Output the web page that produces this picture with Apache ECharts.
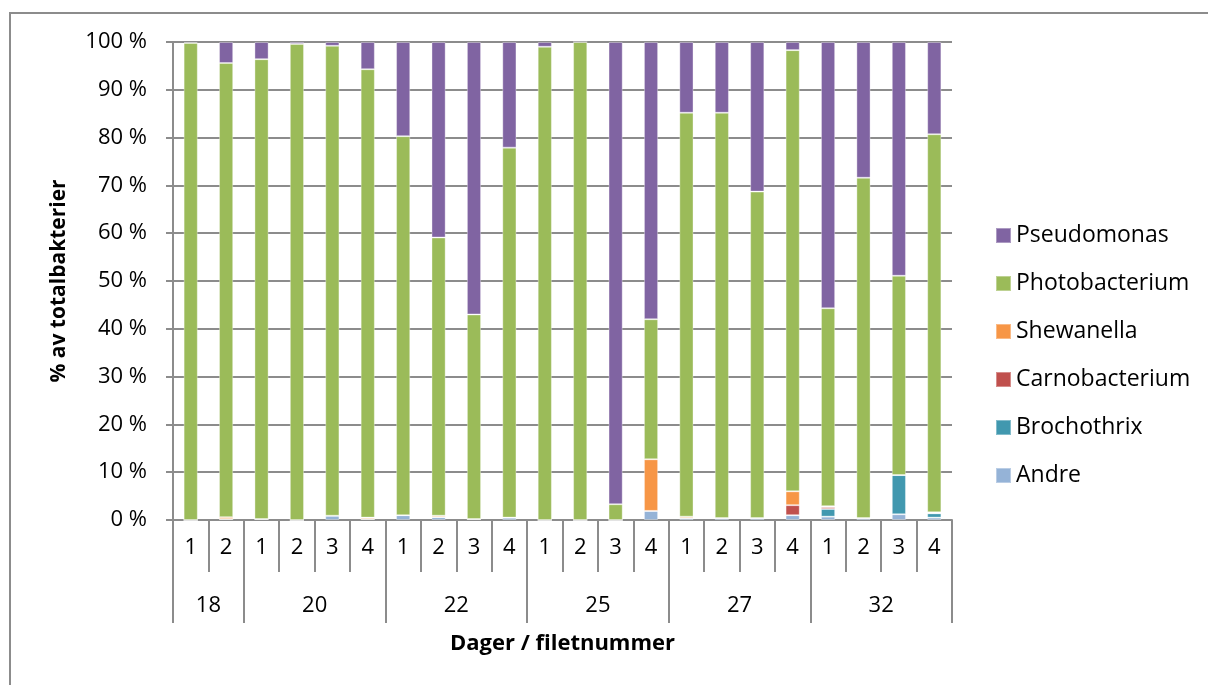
<!DOCTYPE html>
<html>
<head>
<meta charset="utf-8">
<script src="https://cdn.jsdelivr.net/npm/echarts@6/dist/echarts.min.js"></script>
<style>
  html, body { margin: 0; padding: 0; background: #fff; overflow: hidden; }
  #wrap { position: relative; width: 1208px; height: 685px; overflow: hidden; }
  #frame { position: absolute; left: 9px; top: 12px; width: 1400px; height: 900px;
           border-left: 2px solid #8c8c8c; border-top: 2px solid #8c8c8c; box-sizing: border-box; }
  #chart { position: absolute; left: 0; top: 0; width: 1208px; height: 685px; }
</style>
</head>
<body>
<div id="wrap">
  <div id="frame"></div>
  <div id="chart"></div>
</div>
<script>
// Days of storage and number of fillets sampled per day
const groupNames = ['18', '20', '22', '25', '27', '32'];
const groupSizes = [2, 4, 4, 4, 4, 4];
const fileLabels = ['1', '2', '1', '2', '3', '4', '1', '2', '3', '4', '1', '2', '3', '4', '1', '2', '3', '4', '1', '2', '3', '4'];
const yTicks = [0, 10, 20, 30, 40, 50, 60, 70, 80, 90, 100];

// Share of total bacteria (%) per fillet, bottom of the stack first
const andre          = [0,   0.2, 0.2, 0,   0.9, 0.2, 1.0, 0.6, 0.2, 0.5, 0,   0,   0,   1.9, 0.4, 0.4, 0.4, 1.0, 0.7, 0.4, 1.2, 0.5];
const brochothrix    = [0,   0,   0,   0,   0,   0,   0,   0,   0,   0,   0,   0,   0,   0,   0,   0,   0,   0,   1.6, 0,   8.2, 0.9];
const carnobacterium = [0,   0,   0,   0,   0,   0,   0,   0,   0,   0,   0,   0,   0,   0,   0,   0,   0,   2.1, 0.4, 0,   0,   0];
const shewanella     = [0,   0.4, 0,   0,   0,   0.3, 0,   0.3, 0,   0,   0,   0,   0,   10.8, 0.3, 0,  0,   2.9, 0.2, 0,   0,   0.2];
const photobacterium = [99.8, 95.0, 96.2, 99.6, 98.3, 93.8, 79.3, 58.2, 42.8, 77.4, 99.0, 100, 3.3, 29.3, 84.5, 84.8, 68.3, 92.3, 41.4, 71.2, 41.7, 79.1];
const pseudomonas    = [0.2, 4.4, 3.6, 0.4, 0.8, 5.7, 19.7, 40.9, 57.0, 22.1, 1.0, 0,   96.7, 58.0, 14.8, 14.8, 31.3, 1.7, 55.7, 28.4, 48.9, 19.3];

const FONT = 'Open Sans';
const GRID = '#8c8c8c';
const TICK_FONT = 22;

// Group boundaries and centres on a 0..n scale that spans the category axis
const groupEdges = [0];
groupSizes.forEach(s => groupEdges.push(groupEdges[groupEdges.length - 1] + s));
const groupCenters = groupSizes.map((s, i) => groupEdges[i] + s / 2);

const seriesDefs = [
  ['Andre', andre, '#95B3D7'],
  ['Brochothrix', brochothrix, '#4198AF'],
  ['Carnobacterium', carnobacterium, '#C0504D'],
  ['Shewanella', shewanella, '#F79646'],
  ['Photobacterium', photobacterium, '#9BBB59'],
  ['Pseudomonas', pseudomonas, '#8064A2']
];

const chart = echarts.init(document.getElementById('chart'), null, { renderer: 'canvas' });

chart.setOption({
  animation: false,
  textStyle: { fontFamily: FONT },
  grid: { left: 173, right: 256, top: 42, bottom: 165, containLabel: false },
  legend: {
    orient: 'vertical',
    left: 995,
    top: 224,
    padding: 0,
    itemWidth: 15,
    itemHeight: 15,
    itemGap: 25,
    icon: 'rect',
    data: seriesDefs.map(d => d[0]).reverse(),
    textStyle: { fontFamily: FONT, fontSize: 23, color: '#000' }
  },
  xAxis: [
    {
      type: 'category',
      data: fileLabels,
      position: 'bottom',
      boundaryGap: true,
      axisLine: { show: true, lineStyle: { color: GRID, width: 2 } },
      axisTick: { show: true, interval: 0, length: 52, lineStyle: { color: GRID, width: 2 } },
      axisLabel: { interval: 0, margin: 17, fontFamily: FONT, fontSize: TICK_FONT, color: '#000' },
      splitLine: { show: false }
    },
    {
      type: 'value',
      position: 'bottom',
      min: 0,
      max: fileLabels.length,
      axisLine: { show: false },
      axisTick: { show: true, length: 103, customValues: groupEdges, lineStyle: { color: GRID, width: 2 } },
      axisLabel: {
        customValues: groupCenters,
        margin: 75,
        fontFamily: FONT,
        fontSize: TICK_FONT,
        color: '#000',
        formatter: v => {
          const i = groupCenters.indexOf(v);
          return i >= 0 ? groupNames[i] : '';
        }
      },
      splitLine: { show: false },
      name: 'Dager / filetnummer',
      nameLocation: 'middle',
      nameGap: 113,
      nameTextStyle: { fontFamily: FONT, fontSize: 22, fontWeight: 'bold', color: '#000' }
    }
  ],
  yAxis: {
    type: 'value',
    min: yTicks[0],
    max: yTicks[yTicks.length - 1],
    interval: yTicks[1] - yTicks[0],
    axisLine: { show: true, lineStyle: { color: GRID, width: 2 } },
    axisTick: { show: true, length: 7, lineStyle: { color: GRID, width: 2 } },
    axisLabel: { margin: 26, fontFamily: FONT, fontSize: TICK_FONT, color: '#000', formatter: '{value} %' },
    splitLine: { show: true, lineStyle: { color: GRID, width: 2 } },
    name: '% av totalbakterier',
    nameLocation: 'middle',
    nameGap: 103,
    nameRotate: 90,
    nameTextStyle: { fontFamily: FONT, fontSize: 21, fontWeight: 'bold', color: '#000' }
  },
  series: seriesDefs.map(([name, values, color]) => ({
    name,
    type: 'bar',
    stack: 'total',
    xAxisIndex: 0,
    barWidth: '40%',
    data: values,
    itemStyle: { color, borderColor: 'rgba(255,255,255,0.35)', borderWidth: 1 },
    emphasis: { disabled: true }
  }))
});
</script>
</body>
</html>
